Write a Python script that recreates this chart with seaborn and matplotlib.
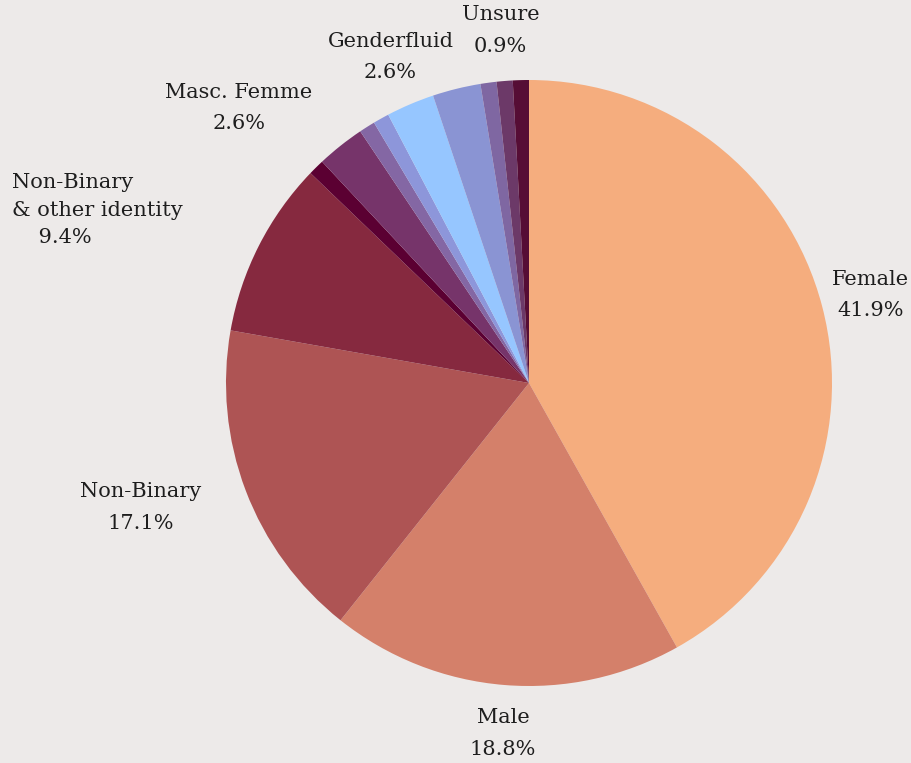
import numpy as np
import matplotlib
matplotlib.use("Agg")
import matplotlib.pyplot as plt
import seaborn as sns

# ----------- Data (counts, total 117) -----------------------------------------

categories = ["Female", "Male", "Non-Binary", "Non-Binary\n& other identity",
              "Other A", "Masc. Femme", "Other B", "Other C", "Genderfluid",
              "Other D", "Other E", "Other F", "Unsure"]
counts = [49, 22, 20, 11, 1, 3, 1, 1, 3, 3, 1, 1, 1]
shown = [True, True, True, True, False, True, False, False, True,
         False, False, False, True]
colors = ["#F5AD7E", "#D4806A", "#AE5454", "#86293F", "#5B0032", "#76346A",
          "#8467A4", "#8D96DA", "#96C6FF", "#8A94D3", "#7F67A2", "#6C3968",
          "#560D35"]

# label placement tweaks (ha, dx px, dy px, line spacing)
label_style = {
    "Female": ("center", 4, 0, 1.85),
    "Male": ("center", 2, -3, 1.85),
    "Non-Binary": ("right", -2, -1, 1.85),
    "Non-Binary\n& other identity": ("right", -36, 15, 1.55),
    "Masc. Femme": ("right", 0, 2, 1.8),
    "Genderfluid": ("center", -2, 5, 1.8),
    "Unsure": ("center", -19, 4, 1.85),
}

sns.set_theme(style="white", rc={"figure.facecolor": "#EDEAE9",
                                 "axes.facecolor": "#EDEAE9"})
plt.rcParams["font.family"] = ["DejaVu Serif"]

W, H = 912, 763
fig = plt.figure(figsize=(W / 100, H / 100), dpi=100)
ax = fig.add_axes([0, 0, 1, 1])

cx, cy, R = 529, 380, 303
pal = sns.color_palette(colors)
wedges, _ = ax.pie(counts, colors=pal, startangle=90, counterclock=False,
                   center=(cx, cy), radius=R,
                   wedgeprops=dict(linewidth=0.3, edgecolor="none"))
ax.set_xlim(0, W)
ax.set_ylim(0, H)
ax.set_aspect("equal")
ax.axis("off")

total = sum(counts)
for w, name, n, show in zip(wedges, categories, counts, shown):
    if not show:
        continue
    ang = np.deg2rad((w.theta1 + w.theta2) / 2)
    ha, dx, dy, ls = label_style[name]
    x = cx + 1.15 * R * np.cos(ang) + dx
    y = cy + 1.15 * R * np.sin(ang) + dy
    pct = f"{100 * n / total:.1f}%"
    if name.startswith("Non-Binary\n"):
        txt = name + "\n    " + pct
        ma = "left"
    else:
        txt = name + "\n" + pct
        ma = "center"
    ax.text(x, y, txt, ha=ha, va="center", multialignment=ma,
            fontsize=15, color="#1E1E1E", linespacing=ls)

fig.savefig("out.png", dpi=100, facecolor=fig.get_facecolor())
